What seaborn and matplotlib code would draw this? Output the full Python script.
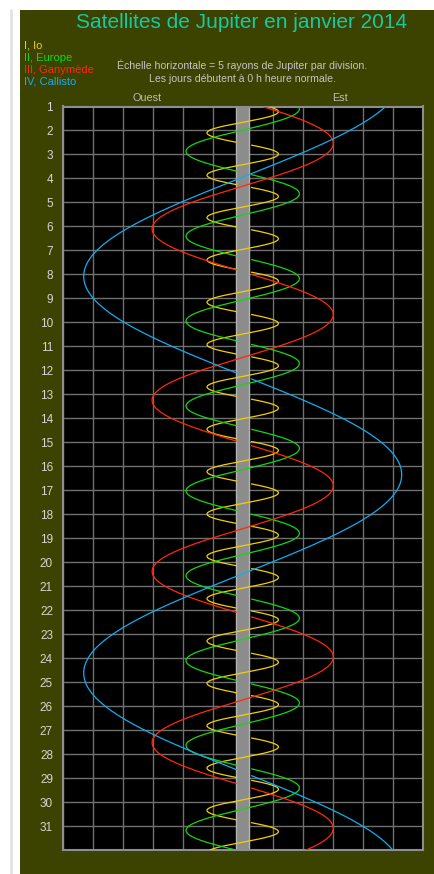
import numpy as np
import pandas as pd
import matplotlib
matplotlib.use("Agg")
import matplotlib.pyplot as plt
import seaborn as sns
from matplotlib.patches import Rectangle

# ===============================
# Data
# ===============================
sat_names = ["I, Io", "II, Europe", "III, Ganymède", "IV, Callisto"]
sat_colors = ["#f2d000", "#12d812", "#ff2a0a", "#12aef0"]
# max elongation (Jupiter radii), period (days), day of eastern elongation
amplitudes = [5.95, 9.45, 15.1, 26.5]
periods = [1.7656, 3.539, 7.14, 16.54]
east_elong_day = [1.217, 1.10, 2.535, -0.191]

days = list(range(1, 32))
x_ticks = list(range(-30, 31, 5))

title = "Satellites de Jupiter en janvier 2014"
subtitle = ["Échelle horizontale = 5 rayons de Jupiter par division.",
            "Les jours débutent à 0 h heure normale."]

# ===============================
# Build positions (hidden when behind the disc / in its shadow)
# ===============================
t = np.arange(1.0, 32.0001, 0.002)
frames = []
seg_base = 0
for name, amp, per, t0 in zip(sat_names, amplitudes, periods, east_elong_day):
    phase = 2 * np.pi * (t - t0) / per
    pos = amp * np.cos(phase)
    behind = np.sin(phase) < 0
    hidden = behind & (pos > -1.05) & (pos < 1.45)
    seg = np.cumsum(np.r_[0, np.diff(hidden.astype(int)) != 0]) + seg_base
    seg_base = seg.max() + 1
    df = pd.DataFrame({"pos": pos, "day": t, "sat": name, "seg": seg})
    frames.append(df[~hidden])
data = pd.concat(frames, ignore_index=True)

# ===============================
# Figure
# ===============================
sns.set_style("dark")
plt.rcParams["font.family"] = ["Liberation Sans", "DejaVu Sans"]

fig = plt.figure(figsize=(4.34, 8.74), dpi=100)
fig.patch.set_facecolor("white")
W, H = 434, 874
fig.add_artist(Rectangle((20 / W, 0), 1, (H - 10) / H, transform=fig.transFigure,
                         facecolor="#3c4200", edgecolor="none", zorder=0))
fig.add_artist(plt.Line2D([11 / W, 11 / W], [0, (H - 10) / H], transform=fig.transFigure,
                          color="#e2e2e2", lw=2, zorder=0))

ax = fig.add_axes([62.7 / W, (H - 850) / H, 360 / W, (850 - 106.5) / H])
ax.set_facecolor("black")

# Jupiter disc
ax.axvspan(-1.05, 1.05, color="#8c8c8c", lw=0, zorder=2)
for xe in (-1.05, 1.05):
    ax.axvline(xe, color="#b4b4b4", lw=1, zorder=2)

palette = dict(zip(sat_names, sat_colors))
sns.lineplot(data=data, x="pos", y="day", hue="sat", units="seg", estimator=None,
             sort=False, palette=palette, lw=0.9, legend=False, ax=ax, zorder=3)

ax.set_xlim(-30, 30)
ax.set_ylim(32, 1)
ax.set_xticks(x_ticks)
ax.set_xticklabels([])
ax.set_yticks(days)
ax.set_yticklabels([str(d) for d in days], color="#d6d6d6", fontsize=8.5)
ax.tick_params(length=0, pad=7)
ax.grid(True, color="#707070", lw=1)
ax.set_axisbelow(True)
ax.set_xlabel("")
ax.set_ylabel("")
for s in ax.spines.values():
    s.set_visible(True)
    s.set_color("#8e8e8e")
    s.set_linewidth(1.5)

# ===============================
# Texts
# ===============================
fig.text(242 / W, 1 - 23 / H, title, color="#18c8a0", fontsize=15,
         ha="center", va="center")
for i, (name, col) in enumerate(zip(sat_names, sat_colors)):
    fig.text(24 / W, 1 - (46 + 12 * i) / H, name, color=col, fontsize=8,
             ha="left", va="center")
fig.text(242 / W, 1 - 65 / H, subtitle[0], color="#c4c4c4", fontsize=7.6,
         ha="center", va="center")
fig.text(242 / W, 1 - 79 / H, subtitle[1], color="#c4c4c4", fontsize=7.6,
         ha="center", va="center")
fig.text(147 / W, 1 - 98 / H, "Ouest", color="#bcbcbc", fontsize=7.8,
         ha="center", va="center")
fig.text(340 / W, 1 - 98 / H, "Est", color="#bcbcbc", fontsize=7.8,
         ha="center", va="center")

fig.savefig("out.png", dpi=100, facecolor=fig.get_facecolor())
